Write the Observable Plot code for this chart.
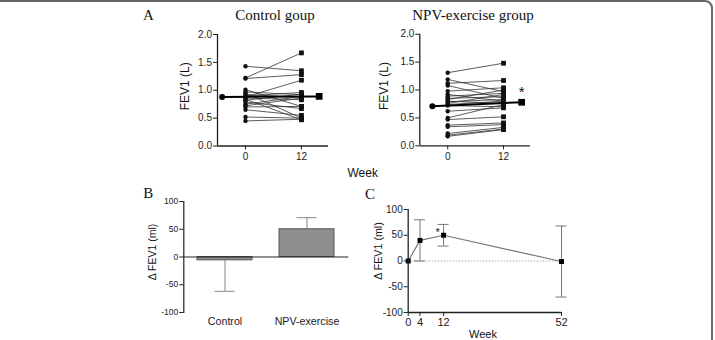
<!DOCTYPE html>
<html><head><meta charset="utf-8">
<script src="https://cdn.jsdelivr.net/npm/d3@7"></script>
<script src="https://cdn.jsdelivr.net/npm/@observablehq/plot@0.6"></script>
<style>
body{margin:0;background:#fff;}
#root{position:relative;width:715px;height:340px;overflow:hidden;background:#fff;font-family:"Liberation Sans",Arial,sans-serif;}
.panel{position:absolute;}
.panel svg{background:transparent;}
.lbl{position:absolute;line-height:1;white-space:nowrap;color:#111;}
#frame{position:absolute;left:-20px;top:0;width:733px;height:400px;border:2px solid #666;border-radius:8px;box-sizing:border-box;}
</style></head><body><div id="root"><div id="frame"></div></div>
<script>
// ---------- data ----------
const pairWeeks = [0, 12];
const fevTicks = [0, 0.5, 1.0, 1.5, 2.0];

const controlWeek0  = [1.43, 1.22, 1.21, 1.01, 0.97, 0.95, 0.92, 0.90, 0.88, 0.86, 0.84, 0.82, 0.79, 0.75, 0.72, 0.70, 0.65, 0.52, 0.45];
const controlWeek12 = [1.35, 1.67, 1.28, 0.71, 0.92, 0.50, 0.88, 0.96, 1.18, 0.83, 0.47, 0.93, 0.67, 0.89, 0.86, 0.71, 0.55, 0.50, 0.48];
const controlMeanX = [-5, 15.8];
const controlMean  = [0.88, 0.89];

const npvWeek0  = [1.31, 1.19, 1.12, 1.08, 0.98, 0.92, 0.89, 0.85, 0.83, 0.80, 0.79, 0.76, 0.74, 0.72, 0.62, 0.50, 0.47, 0.37, 0.34, 0.22, 0.19, 0.17];
const npvWeek12 = [1.48, 0.97, 1.17, 0.85, 1.04, 0.80, 0.94, 0.88, 1.00, 0.76, 0.83, 0.92, 0.80, 0.70, 0.68, 0.74, 0.52, 0.41, 0.38, 0.33, 0.30, 0.29];
const npvMeanX = [-3.3, 15.9];
const npvMean  = [0.71, 0.78];

const barGroups = ["Control", "NPV-exercise"];
const barMeans  = [-6, 50];
const barSD     = [56, 21];

const deltaTicks = [-100, -50, 0, 50, 100];
const timeWeeks = [0, 4, 12, 52];
const timeMeans = [0, 40, 50, -1];
const timeErr   = [0, 40, 21, 69];

// ---------- helpers ----------
const root = document.getElementById("root");
const FONT = "'Liberation Sans', Arial, sans-serif";
const hyphenFmt = d => String(d);
function place(svg, left, top, w) {
  const d = document.createElement("div");
  d.className = "panel";
  d.style.left = left + "px"; d.style.top = top + "px"; d.style.width = w + "px";
  d.appendChild(svg);
  root.appendChild(d);
}
function label(text, x, baseline, size, opts = {}) {
  const d = document.createElement("div");
  d.className = "lbl";
  const serif = opts.serif;
  d.style.fontFamily = serif ? "'Liberation Serif','Times New Roman',serif" : FONT;
  d.style.fontSize = size + "px";
  d.style.top = (baseline - (serif ? 0.8375 : 0.8465) * size) + "px";
  d.style.left = x + "px";
  if (opts.center) d.style.transform = "translateX(-50%)";
  d.textContent = text;
  root.appendChild(d);
}

// ---------- panel A ----------
function pairPanel(w0, w12, meanX, mean, star, left, top, width, margins, labelDx, labelDy) {
  const xd = [-6, 17.8];
  const pairs = w0.map((v, i) => ({y1: v, y2: w12[i]}));
  const marks = [
    Plot.link(pairs, {x1: pairWeeks[0], y1: "y1", x2: pairWeeks[1], y2: "y2", stroke: "#333", strokeWidth: 0.8}),
    Plot.dot(w0, {x: pairWeeks[0], y: d => d, r: 2.2, fill: "#111", symbol: "circle"}),
    Plot.dot(w12, {x: pairWeeks[1], y: d => d, r: 2.7, fill: "#111", symbol: "square"}),
    Plot.link([mean], {x1: meanX[0], y1: d => d[0], x2: meanX[1], y2: d => d[1], stroke: "#000", strokeWidth: 2}),
    Plot.dot([mean[0]], {x: meanX[0], y: d => d, r: 3, fill: "#000", symbol: "circle"}),
    Plot.dot([mean[1]], {x: meanX[1], y: d => d, r: 3.8, fill: "#000", symbol: "square"}),
    Plot.ruleY([0], {x1: xd[0], x2: xd[1], stroke: "#222", strokeWidth: 1.3}),
    Plot.ruleX([xd[0]], {y1: 0, y2: 2, stroke: "#222", strokeWidth: 1.3}),
    Plot.axisY({ticks: fevTicks, tickFormat: d3.format(".1f"), tickSize: 4, tickPadding: 1.5, fontSize: 10, label: null, color: "#222"}),
    Plot.axisX({ticks: pairWeeks, tickFormat: hyphenFmt, tickSize: 4, tickPadding: 3, fontSize: 10, label: null, color: "#222"}),
    Plot.text(["FEV1 (L)"], {frameAnchor: "left", rotate: -90, textAnchor: "middle", lineAnchor: "middle", dx: labelDx, dy: labelDy, fontSize: 12, fill: "#111"})
  ];
  if (star) marks.push(Plot.text([mean[1]], {x: meanX[1], y: d => d, text: () => "*", dy: -10, fontSize: 15, fill: "#111"}));
  const svg = Plot.plot({
    width, height: 150, ...margins,
    style: {fontFamily: FONT, background: "transparent"},
    x: {domain: xd}, y: {domain: [0, 2]},
    marks
  });
  place(svg, left, top, width);
}
pairPanel(controlWeek0, controlWeek12, controlMeanX, controlMean, false, 130, 20, 215,
  {marginLeft: 87, marginRight: 17, marginTop: 14, marginBottom: 24.5}, -32, -4);
pairPanel(npvWeek0, npvWeek12, npvMeanX, npvMean, true, 345, 20, 200,
  {marginLeft: 74.3, marginRight: 15, marginTop: 13.7, marginBottom: 24.7}, -36, -4);

// ---------- panel B ----------
{
  const bars = barGroups.map((g, i) => ({group: g, mean: barMeans[i], end: barMeans[i] + Math.sign(barMeans[i]) * barSD[i]}));
  const svg = Plot.plot({
    width: 225, height: 150, marginLeft: 53.3, marginRight: 6.7, marginTop: 11, marginBottom: 28,
    style: {fontFamily: FONT, background: "transparent"},
    x: {domain: barGroups, paddingInner: 0.333, paddingOuter: 0.1667},
    y: {domain: [-100, 100]},
    marks: [
      Plot.ruleX(bars, {x: "group", y1: "mean", y2: "end", stroke: "#999", strokeWidth: 1.2}),
      Plot.tickY(bars, {x: "group", y: "end", stroke: "#999", strokeWidth: 1.2, insetLeft: 17.5, insetRight: 17.5}),
      Plot.barY(bars, {x: "group", y: "mean", fill: "#8f8f8f", stroke: "#555", strokeWidth: 1}),
      Plot.ruleY([0], {stroke: "#222", strokeWidth: 1.2}),
      Plot.frame({anchor: "left", stroke: "#222", strokeWidth: 1.2}),
      Plot.axisY({ticks: deltaTicks, tickFormat: hyphenFmt, tickSize: 4, tickPadding: 1.5, fontSize: 8.5, label: null, color: "#222"}),
      Plot.axisX({tickSize: 0, tickPadding: 5, fontSize: 10.7, label: null, color: "#222"}),
      Plot.text(["Δ FEV1 (ml)"], {frameAnchor: "left", rotate: -90, textAnchor: "middle", lineAnchor: "middle", dx: -31, dy: -5, fontSize: 10.5, fill: "#111"})
    ]
  });
  place(svg, 130, 190, 225);
}

// ---------- panel C ----------
{
  const tp = timeWeeks.map((w, i) => ({week: w, mean: timeMeans[i], lo: timeMeans[i] - timeErr[i], hi: timeMeans[i] + timeErr[i]}));
  const withErr = tp.filter(d => d.hi !== d.lo);
  const svg = Plot.plot({
    width: 230, height: 150, marginLeft: 47.7, marginRight: 29, marginTop: 19, marginBottom: 28,
    style: {fontFamily: FONT, background: "transparent"},
    x: {domain: [0, 52]}, y: {domain: [-100, 100]},
    marks: [
      Plot.ruleY([0], {stroke: "#aaa", strokeWidth: 1, strokeDasharray: "1.5,1.5"}),
      Plot.ruleX(withErr, {x: "week", y1: "lo", y2: "hi", stroke: "#777", strokeWidth: 1}),
      Plot.ruleY(withErr, {y: "hi", x1: "week", x2: "week", insetLeft: -5.5, insetRight: -5.5, stroke: "#777", strokeWidth: 1}),
      Plot.ruleY(withErr, {y: "lo", x1: "week", x2: "week", insetLeft: -5.5, insetRight: -5.5, stroke: "#777", strokeWidth: 1}),
      Plot.line(tp, {x: "week", y: "mean", stroke: "#777", strokeWidth: 1.2}),
      Plot.dot(tp, {x: "week", y: "mean", symbol: "square", r: 2.8, fill: "#000"}),
      Plot.text(tp.filter(d => d.week === 12), {x: "week", y: "mean", text: () => "*", dx: -6, dy: -3, fontSize: 11, fill: "#111"}),
      Plot.ruleY([-100], {stroke: "#222", strokeWidth: 1.3}),
      Plot.ruleX([0], {y1: -100, y2: 100, stroke: "#222", strokeWidth: 1.3}),
      Plot.axisY({ticks: deltaTicks, tickFormat: hyphenFmt, tickSize: 4, tickPadding: 1.5, fontSize: 10, label: null, color: "#222"}),
      Plot.axisX({ticks: timeWeeks, tickFormat: hyphenFmt, tickSize: 4, tickPadding: 2, fontSize: 11, label: null, color: "#222"}),
      Plot.text(["Δ FEV1 (ml)"], {frameAnchor: "left", rotate: -90, textAnchor: "middle", lineAnchor: "middle", dx: -30, dy: -10, fontSize: 10.7, fill: "#111"})
    ]
  });
  place(svg, 360, 190, 230);
}

// ---------- text labels ----------
label("A", 143, 20.7, 15, {serif: true});
label("Control goup", 275, 21, 15, {serif: true, center: true});
label("NPV-exercise group", 473, 21, 15, {serif: true, center: true});
label("Week", 362.7, 176.7, 12, {center: true});
label("B", 143.3, 198.3, 15, {serif: true});
label("C", 365, 200, 15, {serif: true});
label("Week", 483, 338, 11, {center: true});
</script></body></html>
